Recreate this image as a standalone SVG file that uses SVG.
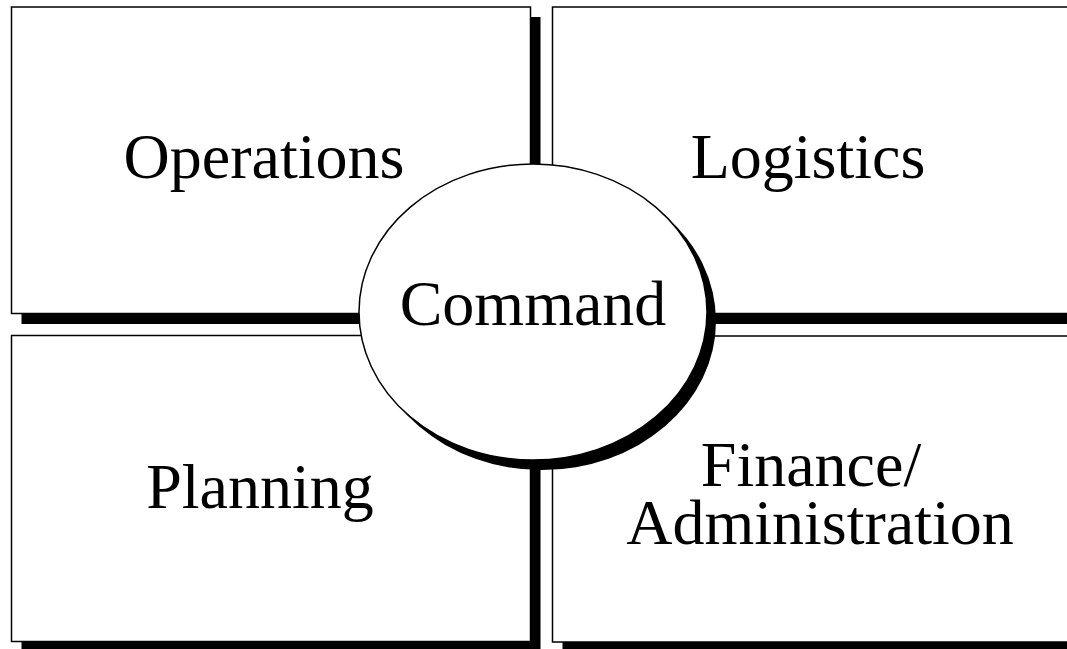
<svg xmlns="http://www.w3.org/2000/svg" width="1067" height="649" viewBox="0 0 1067 649">
<style>
.sh{fill:#000;}
.box{fill:#fff;stroke:#000;stroke-width:1.5;}
.t{font-family:"Liberation Serif","Times New Roman",serif;font-size:64px;fill:#000;text-anchor:middle;}
</style>
<rect width="1067" height="649" fill="#fff"/>
<g id="operations">
<rect class="sh" x="21.5" y="17" width="519" height="307"/>
<rect class="box" x="11.5" y="7" width="519" height="306.5"/>
<text class="t" x="264" y="178">Operations</text>
</g>
<g id="logistics">
<rect class="sh" x="562.5" y="17" width="530" height="307"/>
<rect class="box" x="552.5" y="7" width="530" height="306.5"/>
<text class="t" x="808" y="178">Logistics</text>
</g>
<g id="planning">
<rect class="sh" x="21.5" y="345.5" width="519" height="306"/>
<rect class="box" x="11.5" y="335.5" width="519" height="306"/>
<text class="t" x="260" y="508">Planning</text>
</g>
<g id="finance">
<rect class="sh" x="562.5" y="346" width="530" height="306"/>
<rect class="box" x="552.5" y="336" width="530" height="306"/>
<text class="t" x="811" y="486">Finance/</text>
<text class="t" x="820" y="544">Administration</text>
</g>
<g id="command">
<ellipse class="sh" cx="542" cy="321" rx="174" ry="149"/>
<ellipse class="box" cx="533" cy="312" rx="174" ry="148"/>
<text class="t" x="533" y="325">Command</text>
</g>
<g id="connectors"></g>
</svg>
